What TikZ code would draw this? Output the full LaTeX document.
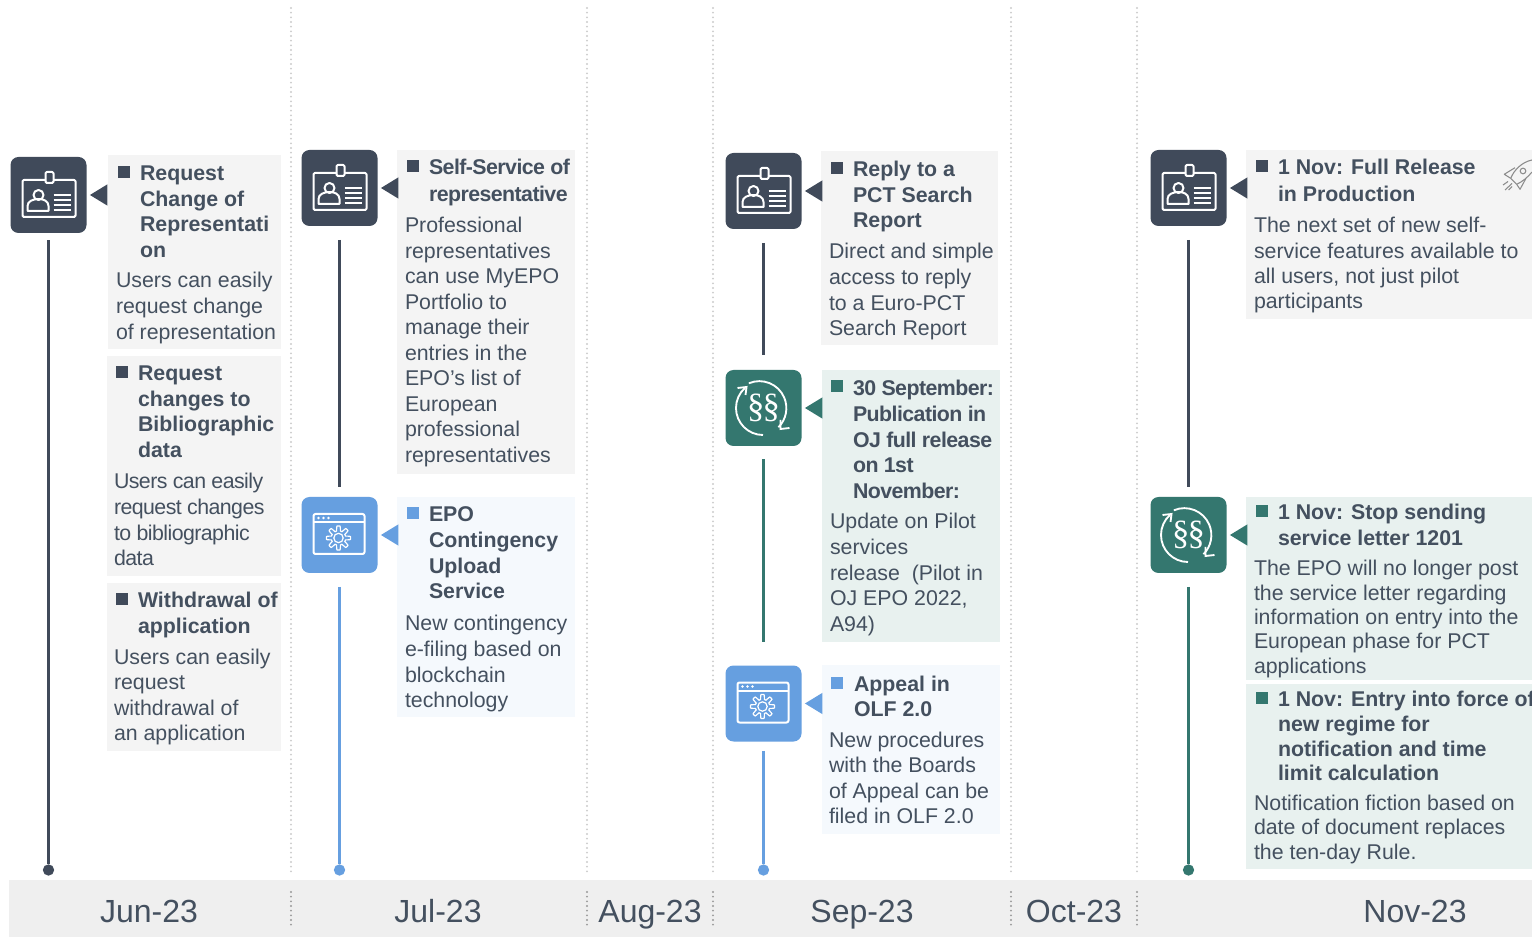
\documentclass[tikz,border=0pt]{standalone}
\usepackage{fontspec}
\setmainfont{Liberation Sans}
\newfontfamily\parafont{Liberation Serif}
\definecolor{dk}{HTML}{404A5A}
\definecolor{tl}{HTML}{34776F}
\definecolor{bl}{HTML}{669FE0}
\definecolor{txtc}{HTML}{44505F}
\definecolor{pg}{HTML}{F4F4F4}
\definecolor{pt}{HTML}{E8F1EF}
\definecolor{pb}{HTML}{F5F9FD}
\definecolor{band}{HTML}{EFEFEF}
\tikzset{
  x=0.75pt,y=-0.75pt,
  panel/.style={inner sep=0,outer sep=0,anchor=north west},
  txt/.style={inner sep=0,outer sep=0,anchor=base west,text=txtc,font=\fontsize{16}{19}\selectfont},
  month/.style={inner sep=0,anchor=base,text=txtc,font=\fontsize{24}{28}\selectfont},
  iconbox/.style={inner sep=0,outer sep=0,minimum width=57pt,minimum height=57pt,rounded corners=6pt,fill=#1},
  ink/.style={draw=white,line width=1.5pt,fill=none,line join=round},
  vline/.style={line width=2.2pt},
  enddot/.style={circle,inner sep=0,minimum size=8.5pt,fill=#1},
  sep/.style={draw=#1,line width=1.6pt,line cap=round,dash pattern=on 0pt off 3.5pt},
  bullet/.style={inner sep=0,minimum size=9pt,anchor=north west,fill=#1},
  badge/.pic={
    \draw[ink,rounded corners=1pt] (-26,-15) rectangle (27,22);
    \draw[ink,fill=dk,rounded corners=1pt] (-3,-23) rectangle (5,-12);
    \draw[ink] (-10,0) circle (5);
    \draw[ink] (-21,16) -- (-21,11) .. controls (-21,6) and (-15,4) .. (-10,4) .. controls (-5,4) and (0,6) .. (0,11) -- (0,16) -- cycle;
    \foreach \yy in {0,5,10,15} \draw[white,line width=1.3pt] (5,\yy) -- (22,\yy);
  },
  gearwin/.pic={
    \draw[ink,rounded corners=1.5pt] (-26,-21) rectangle (25,19);
    \draw[ink] (-26,-13) -- (25,-13);
    \foreach \xx in {-21,-16,-11} \fill[white] (\xx,-17) circle (1.3);
    \draw[white,line width=0.9pt,line join=round] plot[variable=\t,samples=145,domain=0:360] ({-1+(9.6+2.4*max(-1,min(1,2*cos(8*\t))))*cos(\t)},{3+(9.6+2.4*max(-1,min(1,2*cos(8*\t))))*sin(\t)}) -- cycle;
    \draw[white,line width=0.9pt] (-1,3) circle (4.7);
  },
  paras/.pic={
    \draw[white,line width=1.4pt] (-14.7,-24.7) arc[start angle=-113,end angle=45,radius=27];
    \draw[white,line width=1.4pt] (-0.5,27) arc[start angle=90,end angle=228,radius=27];
    \draw[white,line width=1.4pt,line join=miter] (-26,-20) -- (-17,-21) -- (-18,-13);
    \draw[white,line width=1.4pt,line join=miter] (26,20) -- (17,21) -- (17,12);
    \node[inner sep=0,text=white,font=\parafont\fontsize{26}{28}\selectfont] at (0,0) {§\kern-1.5pt§};
  },
}
\newcommand\panelbox[6]{\node[panel,fill=#6,minimum width={(#4-#2)*0.75pt},minimum height={(#5-#3)*0.75pt}] (#1) at (#2,#3) {};}
\newcommand\tb[6]{\node[txt] (#1) at (#2,#3) {\vtop{\baselineskip=\dimexpr #4pt*3/4\relax\lineskiplimit=-100pt\halign{#5##\hfil\cr #6\cr}}};}
\newcommand\tri[2]{\fill[#2] ([xshift=2.6pt]#1.east) -- ([xshift=15.7pt,yshift=8pt]#1.east) -- ([xshift=15.7pt,yshift=-8pt]#1.east) -- cycle;}
\newcommand\tight{\addfontfeature{LetterSpace=-2.6}}
\begin{document}
\begin{tikzpicture}
\useasboundingbox (0,0) rectangle (1532,937);
\fill[white] (0,0) rectangle (1532,937);
% separators
\foreach \i/\sx in {a/291,b/587,c/713,d/1011,e/1137}{
  \coordinate (s\i t) at (\sx,8);
  \coordinate (s\i b) at (\sx,873);
  \draw[sep=black!20] (s\i t) -- (s\i b);
}
% band
\node[panel,fill=band,minimum width={1523*0.75pt},minimum height={57*0.75pt}] (band) at (9,880) {};
\foreach \i/\sx in {a/291,b/587,c/713,d/1011,e/1137}{
  \coordinate (u\i t) at (\sx,892);
  \coordinate (u\i b) at (\sx,929);
  \draw[sep=black!40] (u\i t) -- (u\i b);
}
\node[month] (m1) at (149,922.5) {Jun-23};
\node[month] (m2) at (438,922.5) {Jul-23};
\node[month] (m3) at (650,922.5) {Aug-23};
\node[month] (m4) at (862,922.5) {Sep-23};
\node[month] (m5) at (1074,922.5) {Oct-23};
\node[month] (m6) at (1415,922.5) {Nov-23};
% panels
\panelbox{p1}{108}{155}{281}{349}{pg}
\panelbox{p2}{107}{356}{281}{576}{pg}
\panelbox{p3}{107}{583}{281}{751}{pg}
\panelbox{p4}{397}{150}{575}{474}{pg}
\panelbox{p5}{397}{497}{575}{717}{pb}
\panelbox{p6}{821}{151}{998}{345}{pg}
\panelbox{p7}{822}{370}{1000}{642}{pt}
\panelbox{p8}{822}{665}{1000}{834}{pb}
\panelbox{p9}{1246}{150}{1532}{319}{pg}
\panelbox{p10}{1246}{497}{1532}{680}{pt}
\panelbox{p11}{1246}{684}{1532}{869}{pt}
% icons
\node[iconbox=dk] (i1) at (48.5,195) {};
\node[iconbox=dk] (i2) at (339.5,188) {};
\node[iconbox=bl] (i3) at (339.5,535) {};
\node[iconbox=dk] (i4) at (763.5,191) {};
\node[iconbox=tl] (i5) at (763.5,408) {};
\node[iconbox=bl] (i6) at (763.5,703.5) {};
\node[iconbox=dk] (i7) at (1188.5,188) {};
\node[iconbox=tl] (i8) at (1188.5,535) {};
\pic at (i1.center) {badge};
\pic at (i2.center) {badge};
\pic at (i4.center) {badge};
\pic at (i7.center) {badge};
\pic at (i3.center) {gearwin};
\pic at (i6.center) {gearwin};
\pic at (i5.center) {paras};
\pic at (i8.center) {paras};
% triangles
\tri{i1}{dk}\tri{i2}{dk}\tri{i3}{bl}\tri{i4}{dk}\tri{i5}{tl}\tri{i6}{bl}\tri{i7}{dk}\tri{i8}{tl}
% end dots
\node[enddot=dk] (d1) at (48.5,870) {};
\node[enddot=bl] (d2) at (339.5,870) {};
\node[enddot=bl] (d3) at (763.5,870) {};
\node[enddot=tl] (d4) at (1188.5,870) {};
% connectors
\draw[vline,dk,shorten <=5.5pt] (i1) -- (d1);
\draw[vline,dk,shorten <=10.5pt,shorten >=7.5pt] (i2) -- (i3);
\draw[vline,bl,shorten <=10.5pt] (i3) -- (d2);
\draw[vline,dk,shorten <=10.5pt,shorten >=11pt] (i4) -- (i5);
\draw[vline,tl,shorten <=10pt,shorten >=18pt] (i5) -- (i6);
\draw[vline,bl,shorten <=7pt] (i6) -- (d3);
\draw[vline,dk,shorten <=10.5pt,shorten >=7.5pt] (i7) -- (i8);
\draw[vline,tl,shorten <=10.5pt] (i8) -- (d4);
% bullets
\node[bullet=dk] (b1) at (118,166) {};
\node[bullet=dk] (b2) at (116,366) {};
\node[bullet=dk] (b3) at (116,593) {};
\node[bullet=dk] (b4) at (407,160) {};
\node[bullet=bl] (b5) at (407,507) {};
\node[bullet=dk] (b6) at (831,162) {};
\node[bullet=tl] (b7) at (831,380) {};
\node[bullet=bl] (b8) at (831,677) {};
\node[bullet=dk] (b9) at (1256,160) {};
\node[bullet=tl] (b10) at (1256,505) {};
\node[bullet=tl] (b11) at (1256,692) {};
% texts
\tb{h1}{140}{181}{25.4}{\bfseries}{Request\cr Change of\cr Representati\cr on}
\tb{t1}{116}{288}{25.6}{}{Users can easily\cr request change\cr of representation}
\tb{h2}{138}{381}{25.4}{\bfseries}{Request\cr changes to\cr Bibliographic\cr data}
\tb{t2}{114}{489}{25.6}{\tight}{Users can easily\cr request changes\cr to bibliographic\cr data}
\tb{h3}{138}{608}{25.6}{\bfseries}{Withdrawal of\cr application}
\tb{t3}{114}{664}{25.6}{}{Users can easily\cr request\cr withdrawal of\cr an application}
\tb{h4}{429}{175}{27}{\bfseries\tight}{Self-Service of\cr representative}
\tb{t4}{405}{233}{25.5}{}{Professional\cr representatives\cr can use MyEPO\cr Portfolio to\cr manage their\cr entries in the\cr EPO's list of\cr European\cr professional\cr representatives}
\tb{h5}{429}{522}{25.6}{\bfseries}{EPO\cr Contingency\cr Upload\cr Service}
\tb{t5}{405}{631}{25.6}{}{New contingency\cr e-filing based on\cr blockchain\cr technology}
\tb{h6}{853}{177}{25.4}{\bfseries}{Reply to a\cr PCT Search\cr Report}
\tb{t6}{829}{259}{25.6}{}{Direct and simple\cr access to reply\cr to a Euro-PCT\cr Search Report}
\tb{h7}{853}{396}{25.6}{\bfseries\tight}{30 September:\cr Publication in\cr OJ full release\cr on 1st\cr November:}
\tb{t7}{830}{529}{25.6}{}{Update on Pilot\cr services\cr release\ \ (Pilot in\cr OJ EPO 2022,\cr A94)}
\tb{h8}{854}{691.5}{25.4}{\bfseries}{Appeal in\cr OLF 2.0}
\tb{t8}{829}{747}{25.6}{}{New procedures\cr with the Boards\cr of Appeal can be\cr filed in OLF 2.0}
\tb{h9}{1278}{175}{27}{\bfseries}{1 Nov: Full Release\cr in Production}
\tb{t9}{1254}{233}{25.3}{}{The next set of new self-\cr service features available to\cr all users, not just pilot\cr participants}
\tb{h10}{1278}{520}{26}{\bfseries}{1 Nov: Stop sending\cr service letter 1201}
\tb{t10}{1254}{576}{24.3}{}{The EPO will no longer post\cr the service letter regarding\cr information on entry into the\cr European phase for PCT\cr applications}
\tb{h11}{1278}{706.5}{24.8}{\bfseries}{1 Nov: Entry into force of\cr new regime for\cr notification and time\cr limit calculation}
\tb{t11}{1254}{810}{24.5}{}{Notification fiction based on\cr date of document replaces\cr the ten-day Rule.}
% rocket
\begin{scope}[draw=black!45,line width=0.8pt,line join=round]
\draw (1532,160) .. controls (1522,162) and (1514,170) .. (1510.7,178.3) -- (1516.7,184.3) .. controls (1522,182) and (1528,177) .. (1532,172);
\draw (1510.7,178.3) -- (1504.3,174.3) -- (1515,167.7);
\draw (1516.7,184.3) -- (1520,189.3) -- (1526,178.3);
\draw (1523,171) circle (2.8);
\draw (1503,185) -- (1508,181.5);
\draw (1505,190) -- (1512,183.5);
\draw (1508.5,190) -- (1512,186.5);
\end{scope}
\end{tikzpicture}
\end{document}
